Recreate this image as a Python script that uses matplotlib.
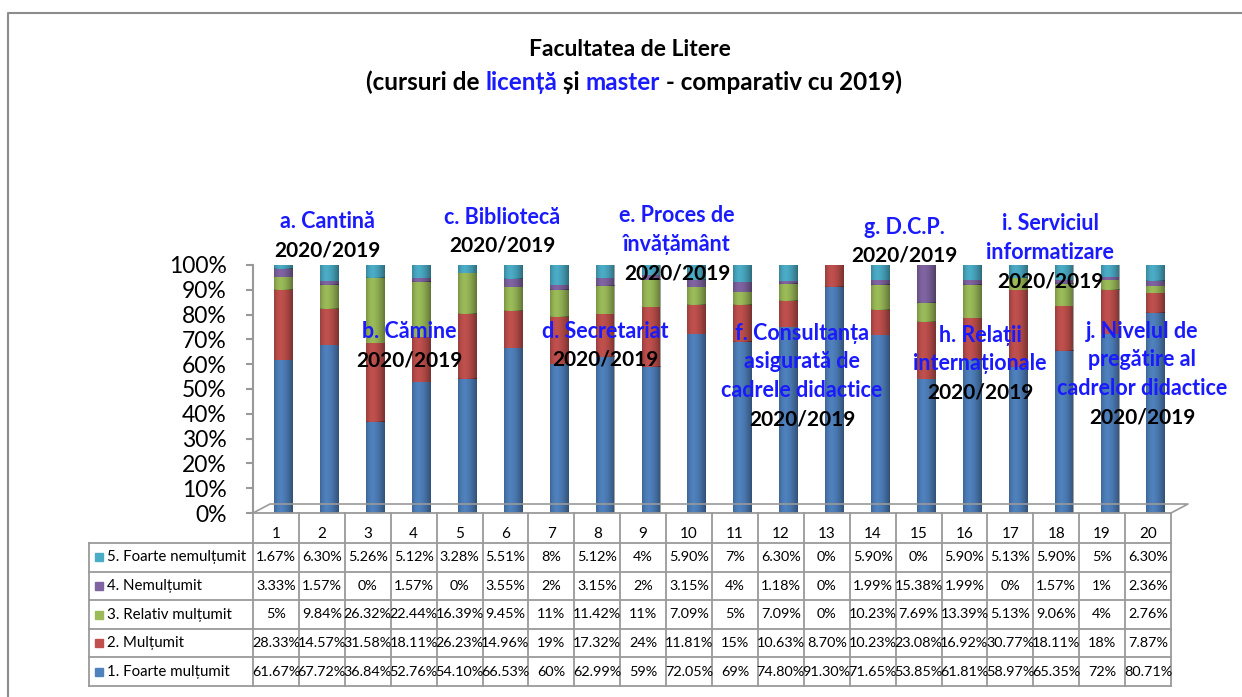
import matplotlib
matplotlib.use('Agg')
import matplotlib.pyplot as plt
from matplotlib.patches import Rectangle
from matplotlib.ticker import PercentFormatter
import numpy as np

plt.rcParams['font.family'] = ['Lato', 'DejaVu Sans']

# date
categorii = [str(i) for i in range(1, 21)]
serii = ['1. Foarte mulțumit', '2. Mulțumit', '3. Relativ mulțumit',
         '4. Nemulțumit', '5. Foarte nemulțumit']
foarte_multumit = [61.67, 67.72, 36.84, 52.76, 54.10, 66.53, 60, 62.99, 59, 72.05,
                   69, 74.80, 91.30, 71.65, 53.85, 61.81, 58.97, 65.35, 72, 80.71]
multumit = [28.33, 14.57, 31.58, 18.11, 26.23, 14.96, 19, 17.32, 24, 11.81,
            15, 10.63, 8.70, 10.23, 23.08, 16.92, 30.77, 18.11, 18, 7.87]
relativ_multumit = [5, 9.84, 26.32, 22.44, 16.39, 9.45, 11, 11.42, 11, 7.09,
                    5, 7.09, 0, 10.23, 7.69, 13.39, 5.13, 9.06, 4, 2.76]
nemultumit = [3.33, 1.57, 0, 1.57, 0, 3.55, 2, 3.15, 2, 3.15,
              4, 1.18, 0, 1.99, 15.38, 1.99, 0, 1.57, 1, 2.36]
foarte_nemultumit = [1.67, 6.30, 5.26, 5.12, 3.28, 5.51, 8, 5.12, 4, 5.90,
                     7, 6.30, 0, 5.90, 0, 5.90, 5.13, 5.90, 5, 6.30]
valori = [foarte_multumit, multumit, relativ_multumit, nemultumit, foarte_nemultumit]
culori = ['#4F81BD', '#C0504D', '#9BBB59', '#8064A2', '#4BACC6']

grupuri = ['a. Cantină', 'b. Cămine', 'c. Bibliotecă', 'd. Secretariat',
           'e. Proces de\nînvățământ', 'f. Consultanța\nasigurată de\ncadrele didactice',
           'g. D.C.P.', 'h. Relații\ninternaționale', 'i. Serviciul\ninformatizare',
           'j. Nivelul de\npregătire al\ncadrelor didactice']
an = '2020/2019'
# pozitii etichete (pixeli)
grup_x = [327, 409, 502, 605, 677, 802, 904, 980, 1050, 1142]
grup_y = [222, 332, 217, 331, 216, 333, 227, 335, 224, 331]

W, H = 1242, 697
fig = plt.figure(figsize=(W / 100, H / 100), dpi=100)


def box(x0, y0, x1, y1):
    return [x0 / W, 1 - y1 / H, (x1 - x0) / W, (y1 - y0) / H]


def fmt(v):
    return '%d%%' % v if v == int(v) else '%.2f%%' % v


# grafic
ax = fig.add_axes(box(253, 265, 1171, 513))
x = np.arange(len(categorii))
jos = np.zeros(len(x))
bare = []
for vals, c in zip(valori, culori):
    v = np.array(vals) / 100
    bare += list(ax.bar(x + 0.17, v, 0.41, bottom=jos, color=c, zorder=3))
    jos += v

# umbrire cilindru
t = np.linspace(0, 1, 60)
alfa = np.where(t < 0.35, 0.22 * ((0.35 - t) / 0.35) ** 2, 0.38 * ((t - 0.35) / 0.65) ** 1.6)
umbra = np.zeros((1, len(t), 4))
umbra[0, :, 3] = alfa
for p in bare:
    if p.get_height() <= 0:
        continue
    x0, y0 = p.get_x(), p.get_y()
    ax.imshow(umbra, extent=[x0, x0 + p.get_width(), y0, y0 + p.get_height()],
              aspect='auto', zorder=4, interpolation='bilinear')

ax.set_xlim(-0.5, 19.5)
ax.set_ylim(0, 1)
ax.set_yticks(np.arange(0, 1.01, 0.1))
ax.yaxis.set_major_formatter(PercentFormatter(1.0, decimals=0))
ax.tick_params(axis='y', labelsize=16.5, color='#999999', length=5, width=1.5, pad=14)
ax.set_xticks([])
for s in ['top', 'right', 'bottom']:
    ax.spines[s].set_visible(False)
ax.spines['left'].set_color('#999999')
ax.spines['left'].set_linewidth(1.5)
ax.patch.set_alpha(0)

# strat de suprapunere in pixeli
ov = fig.add_axes([0, 0, 1, 1])
ov.set_xlim(0, W)
ov.set_ylim(H, 0)
ov.axis('off')

gri = '#9a9a9a'
ov.plot([8, 8, W + 5], [H + 5, 13, 13], color='#8c8c8c', lw=1.5, clip_on=False)

# podea
ov.plot([253, 270, 1188, 1171], [513, 504, 504, 513], color=gri, lw=1.2)

# tabel
col_x = 253 + 45.9 * np.arange(21)
rand_y = 543 + 28.6 * np.arange(6)
for yy in rand_y:
    ov.plot([89, col_x[-1]], [yy, yy], color=gri, lw=1.3)
ov.plot([253, col_x[-1]], [513, 513], color=gri, lw=1.3)
ov.plot([89, 89], [rand_y[0], rand_y[-1]], color=gri, lw=1.3)
for xx in col_x:
    ov.plot([xx, xx], [513, rand_y[-1]], color=gri, lw=1.3)

for i, c in enumerate(categorii):
    ov.text((col_x[i] + col_x[i + 1]) / 2, 534, c, ha='center', va='center', fontsize=11)

for r in range(5):
    k = 4 - r
    yc = (rand_y[r] + rand_y[r + 1]) / 2
    ov.add_patch(Rectangle((95, yc - 4), 8, 8, color=culori[k]))
    ov.text(107, yc, serii[k], ha='left', va='center', fontsize=10.8)
    for i, v in enumerate(valori[k]):
        ov.text((col_x[i] + col_x[i + 1]) / 2, yc, fmt(v), ha='center', va='center',
                fontsize=10.4)

# etichete grupuri
pas = 28.7
for g, gx, gy in zip(grupuri, grup_x, grup_y):
    linii = g.split('\n')
    for j, l in enumerate(linii):
        ov.text(gx, gy + j * pas, l, ha='center', va='center', fontsize=15.5,
                fontweight='bold', color='#1a1aff')
    ov.text(gx, gy + len(linii) * pas, an, ha='center', va='center', fontsize=15,
            fontweight='bold', color='black')

# titlu
ov.text(630, 50, 'Facultatea de Litere', ha='center', va='center', fontsize=16.5,
        fontweight='bold')
bucati = ['(cursuri de ', 'licență', ' și ', 'master', ' - comparativ cu 2019)']
culori_t = ['black', '#1a1aff', 'black', '#1a1aff', 'black']
r = fig.canvas.get_renderer()
ft = 17.5


def latime(s):
    t1 = ov.text(0, 0, s + '|', fontsize=ft, fontweight='bold')
    t2 = ov.text(0, 0, '|', fontsize=ft, fontweight='bold')
    w = t1.get_window_extent(r).width - t2.get_window_extent(r).width
    t1.remove()
    t2.remove()
    return w


total = latime(''.join(bucati))
x0 = 634 - total / 2
pref = ''
for b, c in zip(bucati, culori_t):
    ov.text(x0 + latime(pref), 82, b, ha='left', va='center', fontsize=ft,
            fontweight='bold', color=c)
    pref += b

fig.savefig('out.png', dpi=100)
